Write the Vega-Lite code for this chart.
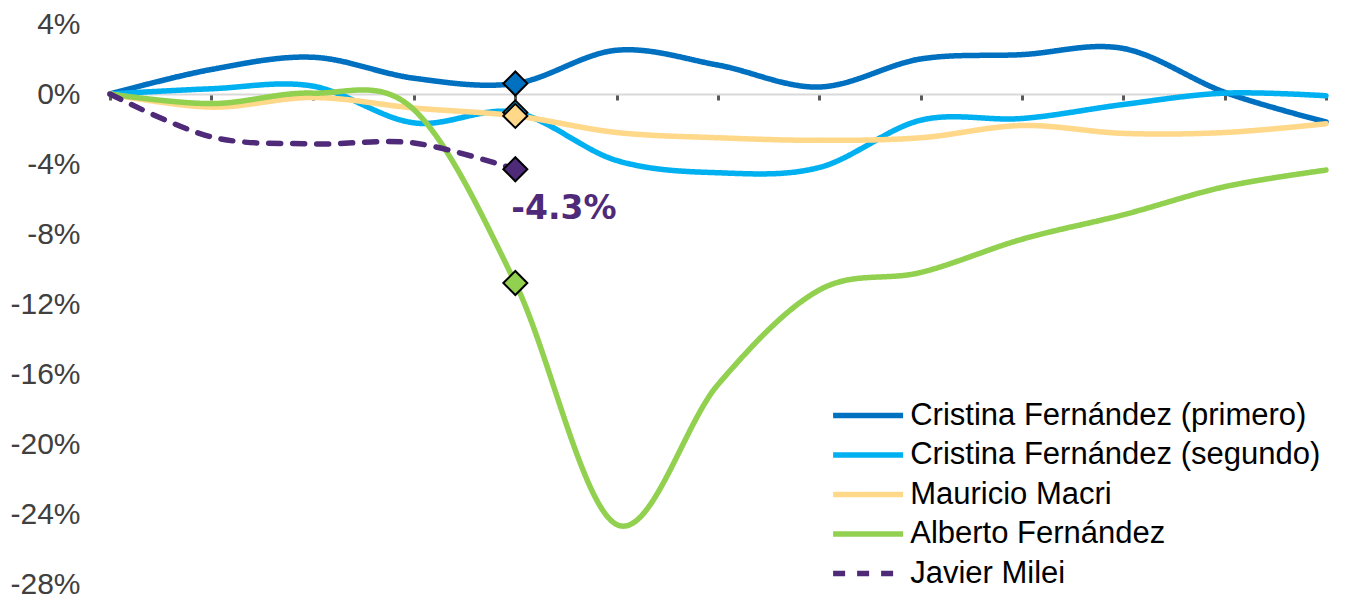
{
  "$schema": "https://vega.github.io/schema/vega-lite/v6.json",
  "autosize": "none",
  "width": 1216,
  "height": 560,
  "padding": {"left": 110, "top": 24, "right": 21, "bottom": 10},
  "background": "white",
  "config": {
    "view": {"stroke": null},
    "font": "Liberation Sans"
  },
  "datasets": {
    "series": [
      {"series": "Cristina Fernández (primero)", "i": 0, "v": 0},
      {"series": "Cristina Fernández (primero)", "i": 1, "v": 1.4},
      {"series": "Cristina Fernández (primero)", "i": 2, "v": 2.1},
      {"series": "Cristina Fernández (primero)", "i": 3, "v": 0.9},
      {"series": "Cristina Fernández (primero)", "i": 4, "v": 0.6},
      {"series": "Cristina Fernández (primero)", "i": 5, "v": 2.5},
      {"series": "Cristina Fernández (primero)", "i": 6, "v": 1.65},
      {"series": "Cristina Fernández (primero)", "i": 7, "v": 0.4},
      {"series": "Cristina Fernández (primero)", "i": 8, "v": 2.0},
      {"series": "Cristina Fernández (primero)", "i": 9, "v": 2.25},
      {"series": "Cristina Fernández (primero)", "i": 10, "v": 2.6},
      {"series": "Cristina Fernández (primero)", "i": 11, "v": 0.1},
      {"series": "Cristina Fernández (primero)", "i": 12, "v": -1.6},
      {"series": "Cristina Fernández (segundo)", "i": 0, "v": 0},
      {"series": "Cristina Fernández (segundo)", "i": 1, "v": 0.3},
      {"series": "Cristina Fernández (segundo)", "i": 2, "v": 0.45},
      {"series": "Cristina Fernández (segundo)", "i": 3, "v": -1.65},
      {"series": "Cristina Fernández (segundo)", "i": 4, "v": -1.05},
      {"series": "Cristina Fernández (segundo)", "i": 5, "v": -3.8},
      {"series": "Cristina Fernández (segundo)", "i": 6, "v": -4.5},
      {"series": "Cristina Fernández (segundo)", "i": 7, "v": -4.2},
      {"series": "Cristina Fernández (segundo)", "i": 8, "v": -1.5},
      {"series": "Cristina Fernández (segundo)", "i": 9, "v": -1.4},
      {"series": "Cristina Fernández (segundo)", "i": 10, "v": -0.6},
      {"series": "Cristina Fernández (segundo)", "i": 11, "v": 0.05},
      {"series": "Cristina Fernández (segundo)", "i": 12, "v": -0.1},
      {"series": "Mauricio Macri", "i": 0, "v": 0},
      {"series": "Mauricio Macri", "i": 1, "v": -0.75},
      {"series": "Mauricio Macri", "i": 2, "v": -0.2},
      {"series": "Mauricio Macri", "i": 3, "v": -0.8},
      {"series": "Mauricio Macri", "i": 4, "v": -1.25},
      {"series": "Mauricio Macri", "i": 5, "v": -2.2},
      {"series": "Mauricio Macri", "i": 6, "v": -2.5},
      {"series": "Mauricio Macri", "i": 7, "v": -2.65},
      {"series": "Mauricio Macri", "i": 8, "v": -2.5},
      {"series": "Mauricio Macri", "i": 9, "v": -1.8},
      {"series": "Mauricio Macri", "i": 10, "v": -2.25},
      {"series": "Mauricio Macri", "i": 11, "v": -2.2},
      {"series": "Mauricio Macri", "i": 12, "v": -1.7},
      {"series": "Alberto Fernández", "i": 0, "v": 0},
      {"series": "Alberto Fernández", "i": 1, "v": -0.55},
      {"series": "Alberto Fernández", "i": 2, "v": 0.05},
      {"series": "Alberto Fernández", "i": 3, "v": -0.9},
      {"series": "Alberto Fernández", "i": 4, "v": -10.8},
      {"series": "Alberto Fernández", "i": 5, "v": -24.6},
      {"series": "Alberto Fernández", "i": 6, "v": -16.6},
      {"series": "Alberto Fernández", "i": 7, "v": -11.2},
      {"series": "Alberto Fernández", "i": 8, "v": -10.2},
      {"series": "Alberto Fernández", "i": 9, "v": -8.3},
      {"series": "Alberto Fernández", "i": 10, "v": -6.9},
      {"series": "Alberto Fernández", "i": 11, "v": -5.3},
      {"series": "Alberto Fernández", "i": 12, "v": -4.35},
      {"series": "Javier Milei", "i": 0, "v": 0},
      {"series": "Javier Milei", "i": 1, "v": -2.45},
      {"series": "Javier Milei", "i": 2, "v": -2.85},
      {"series": "Javier Milei", "i": 3, "v": -2.8},
      {"series": "Javier Milei", "i": 4, "v": -4.3}
    ],
    "note": [
      {"i": 4, "v": -4.3, "label": "-4.3%"}
    ]
  },
  "layer": [
    {
      "data": {"name": "series"},
      "mark": {"type": "line", "interpolate": "cardinal", "tension": 0, "strokeWidth": 5.5, "strokeCap": "round"},
      "encoding": {
        "x": {
          "field": "i", "type": "quantitative",
          "scale": {"domain": [0, 12], "nice": false, "zero": false},
          "axis": {
            "offset": -490, "title": null, "labels": false, "grid": false,
            "values": [0, 1, 2, 3, 4, 5, 6, 7, 8, 9, 10, 11, 12],
            "domainColor": "#D9D9D9", "domainWidth": 2,
            "ticks": true, "tickColor": "#595959", "tickWidth": 3, "tickSize": 6
          }
        },
        "y": {
          "field": "v", "type": "quantitative",
          "scale": {"domain": [-28, 4], "nice": false, "zero": false},
          "axis": {
            "title": null, "domain": false, "ticks": false, "grid": false,
            "values": [-28, -24, -20, -16, -12, -8, -4, 0, 4],
            "labelExpr": "datum.value + '%'",
            "labelFont": "Liberation Sans", "labelFontSize": 30, "labelColor": "#404040",
            "labelPadding": 30
          }
        },
        "color": {
          "field": "series", "type": "nominal",
          "scale": {
            "domain": ["Cristina Fernández (primero)", "Cristina Fernández (segundo)", "Mauricio Macri", "Alberto Fernández", "Javier Milei"],
            "range": ["#0070C0", "#00B0F0", "#FFD88A", "#92D050", "#4E2A78"]
          },
          "legend": {
            "title": null,
            "orient": "none",
            "legendX": 742.6,
            "legendY": 376,
            "symbolType": "M-3,0L3,0",
            "symbolSize": 544,
            "symbolStrokeWidth": 5.5,
            "labelFont": "Liberation Sans",
            "labelFontSize": 31,
            "labelColor": "#000000",
            "labelOffset": 26.6,
            "labelLimit": 800,
            "rowPadding": 7.5,
            "padding": 0
          }
        },
        "strokeDash": {
          "field": "series", "type": "nominal",
          "scale": {
            "domain": ["Cristina Fernández (primero)", "Cristina Fernández (segundo)", "Mauricio Macri", "Alberto Fernández", "Javier Milei"],
            "range": [[1, 0], [1, 0], [1, 0], [1, 0], [12, 12]]
          },
          "legend": {
            "title": null,
            "orient": "none",
            "legendX": 742.6,
            "legendY": 376,
            "symbolType": "M-3,0L3,0",
            "symbolSize": 544,
            "symbolStrokeWidth": 5.5,
            "labelFont": "Liberation Sans",
            "labelFontSize": 31,
            "labelColor": "#000000",
            "labelOffset": 26.6,
            "labelLimit": 800,
            "rowPadding": 7.5,
            "padding": 0
          }
        }
      }
    },
    {
      "data": {"name": "series"},
      "transform": [{"filter": "datum.i == 4"}],
      "mark": {"type": "point", "shape": "diamond", "filled": true, "size": 576, "stroke": "#000000", "strokeWidth": 2, "opacity": 1},
      "encoding": {
        "x": {"field": "i", "type": "quantitative"},
        "y": {"field": "v", "type": "quantitative"},
        "fill": {
          "field": "series", "type": "nominal", "legend": null,
          "scale": {
            "domain": ["Cristina Fernández (primero)", "Cristina Fernández (segundo)", "Mauricio Macri", "Alberto Fernández", "Javier Milei"],
            "range": ["#0070C0", "#00B0F0", "#FFD88A", "#92D050", "#4E2A78"]
          }
        }
      }
    },
    {
      "data": {"name": "note"},
      "mark": {"type": "text", "align": "left", "baseline": "middle", "dx": -4, "dy": 40, "font": "DejaVu Sans", "fontWeight": "bold", "fontSize": 33, "color": "#4E2A78"},
      "encoding": {
        "x": {"field": "i", "type": "quantitative"},
        "y": {"field": "v", "type": "quantitative"},
        "text": {"field": "label"}
      }
    }
  ]
}
